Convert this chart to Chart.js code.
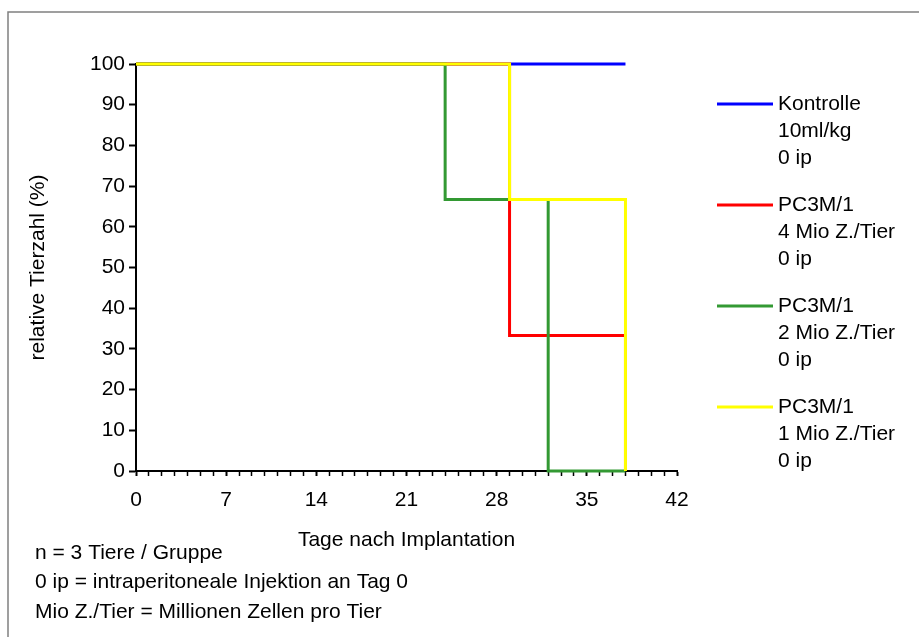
<!DOCTYPE html>
<html>
<head>
<meta charset="utf-8">
<script src="https://cdn.jsdelivr.net/npm/chart.js@4/dist/chart.umd.min.js"></script>
<style>
  body { margin: 0; background: #fff; }
  canvas { display: block; }
</style>
</head>
<body>
<canvas id="survivalChart" width="919" height="637"></canvas>
<script>
// Tage nach Implantation / relative Tierzahl (%)
const kontrolleX = [0, 38];
const kontrolleY = [100, 100];
const mio4X = [0, 29, 38];
const mio4Y = [100, 33.3, 0];
const mio2X = [0, 24, 32, 38];
const mio2Y = [100, 66.7, 0, 0];
const mio1X = [0, 29, 38];
const mio1Y = [100, 66.7, 0];

const legendLabels = [
    ['Kontrolle', '10ml/kg', '0 ip'],
    ['PC3M/1', '4 Mio Z./Tier', '0 ip'],
    ['PC3M/1', '2 Mio Z./Tier', '0 ip'],
    ['PC3M/1', '1 Mio Z./Tier', '0 ip']
];
const footnotes = [
    'n = 3 Tiere / Gruppe',
    '0 ip = intraperitoneale Injektion an Tag 0',
    'Mio Z./Tier = Millionen Zellen pro Tier'
];
const xTickStep = 7;

const FONT = "'Liberation Sans', Arial, sans-serif";
const FSIZE = 21;

function toPoints(xs, ys) {
    return xs.map((x, i) => ({ x: x, y: ys[i] }));
}

// frame, legend and footnotes
const extras = {
    id: 'extras',
    beforeDraw(chart) {
        const ctx = chart.ctx;
        ctx.save();
        ctx.fillStyle = '#fff';
        ctx.fillRect(0, 0, chart.width, chart.height);
        ctx.strokeStyle = '#808080';
        ctx.lineWidth = 1.5;
        ctx.beginPath();
        ctx.moveTo(8, chart.height + 5);
        ctx.lineTo(8, 12);
        ctx.lineTo(chart.width + 5, 12);
        ctx.stroke();
        ctx.restore();
    },
    afterDraw(chart) {
        const ctx = chart.ctx;
        ctx.save();
        ctx.font = FSIZE + 'px ' + FONT;
        ctx.fillStyle = '#000';
        ctx.textBaseline = 'middle';
        chart.data.datasets.forEach((ds, i) => {
            const y = 104 + i * 101;
            ctx.strokeStyle = ds.borderColor;
            ctx.lineWidth = 3;
            ctx.beginPath();
            ctx.moveTo(717, y);
            ctx.lineTo(773, y);
            ctx.stroke();
            legendLabels[i].forEach((t, j) => {
                ctx.fillText(t, 778, y + j * 27);
            });
        });
        footnotes.forEach((t, j) => {
            ctx.fillText(t, 35, 553 + j * 29.5);
        });
        ctx.restore();
    }
};

const ctx = document.getElementById('survivalChart').getContext('2d');
const survivalChart = new Chart(ctx, {
    type: 'line',
    data: {
        datasets: [{
            label: 'Kontrolle',
            data: toPoints(kontrolleX, kontrolleY),
            borderColor: '#0000ff',
            order: 3
        }, {
            label: 'PC3M/1 4 Mio',
            data: toPoints(mio4X, mio4Y),
            borderColor: '#ff0000',
            order: 2
        }, {
            label: 'PC3M/1 2 Mio',
            data: toPoints(mio2X, mio2Y),
            borderColor: '#339933',
            order: 1
        }, {
            label: 'PC3M/1 1 Mio',
            data: toPoints(mio1X, mio1Y),
            borderColor: '#ffff00',
            order: 0
        }]
    },
    options: {
        responsive: false,
        animation: false,
        events: [],
        datasets: {
            line: { clip: false }
        },
        elements: {
            line: { borderWidth: 3, stepped: 'before', fill: false, borderCapStyle: 'butt' },
            point: { radius: 0 }
        },
        layout: {
            padding: { left: 16, top: 64, right: 242, bottom: 84 }
        },
        plugins: {
            legend: { display: false },
            tooltip: { enabled: false }
        },
        scales: {
            x: {
                type: 'linear',
                min: 0,
                max: 42,
                afterFit(scale) { scale.height = 82; },
                border: { color: '#000', width: 2 },
                grid: {
                    drawOnChartArea: false,
                    tickLength: 5,
                    tickColor: '#000',
                    tickWidth: (c) => (c.tick && c.tick.value % xTickStep === 0 ? 2 : 1.5)
                },
                ticks: {
                    stepSize: 1,
                    autoSkip: false,
                    maxRotation: 0,
                    padding: 12,
                    color: '#000',
                    font: { family: FONT, size: FSIZE },
                    callback: (v) => (v % xTickStep === 0 ? v : '')
                },
                title: {
                    display: true,
                    text: 'Tage nach Implantation',
                    color: '#000',
                    font: { family: FONT, size: FSIZE },
                    padding: { top: 0, bottom: 0 }
                }
            },
            y: {
                min: 0,
                max: 100,
                afterFit(scale) { scale.width = 120; },
                border: { color: '#000', width: 2 },
                grid: {
                    drawOnChartArea: false,
                    tickLength: 7,
                    tickColor: '#000',
                    tickWidth: 2
                },
                ticks: {
                    stepSize: 10,
                    padding: 4,
                    color: '#000',
                    font: { family: FONT, size: FSIZE }
                },
                title: {
                    display: true,
                    text: 'relative Tierzahl (%)',
                    color: '#000',
                    font: { family: FONT, size: FSIZE },
                    padding: { top: 10, bottom: 0 }
                }
            }
        }
    },
    plugins: [extras]
});
</script>
</body>
</html>
